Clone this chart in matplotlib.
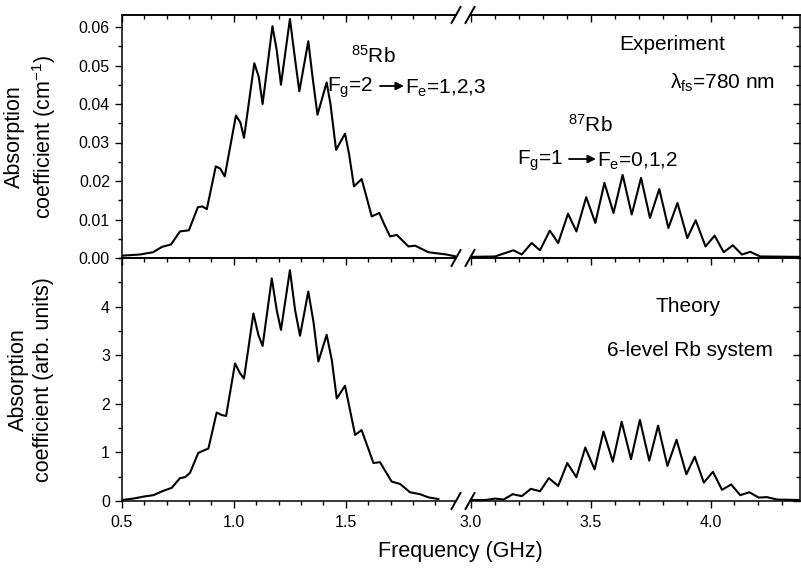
import matplotlib
matplotlib.use("Agg")
import matplotlib.pyplot as plt
from matplotlib.ticker import MultipleLocator, FixedLocator, FormatStrFormatter
from matplotlib.lines import Line2D

plt.rcParams['font.family'] = ['Liberation Sans', 'DejaVu Sans']
plt.rcParams['mathtext.fontset'] = 'custom'
plt.rcParams['mathtext.rm'] = 'Liberation Sans'
plt.rcParams['mathtext.it'] = 'Liberation Sans:italic'
plt.rcParams['mathtext.bf'] = 'Liberation Sans:bold'

# ---------------- data ----------------
exp85_x = [0.50, 0.58, 0.64, 0.68, 0.72, 0.76, 0.80, 0.84, 0.86, 0.88, 0.92, 0.94, 0.96,
           1.01, 1.03, 1.046, 1.092, 1.112, 1.129, 1.173, 1.192, 1.211, 1.251, 1.272,
           1.293, 1.333, 1.352, 1.374, 1.415, 1.432, 1.457, 1.497, 1.515, 1.537, 1.571,
           1.590, 1.616, 1.650, 1.670, 1.698, 1.728, 1.780, 1.810, 1.869, 1.951, 1.992]
exp85_y = [0.0006, 0.0009, 0.0015, 0.0029, 0.0035, 0.0069, 0.0072, 0.0132, 0.0134, 0.0127,
           0.0238, 0.0232, 0.0212, 0.0370, 0.0352, 0.0312, 0.0506, 0.0470, 0.0400, 0.0602,
           0.0540, 0.0450, 0.0621, 0.0525, 0.0433, 0.0563, 0.0470, 0.0372, 0.0456, 0.0400,
           0.0281, 0.0323, 0.0270, 0.0186, 0.0205, 0.0165, 0.0108, 0.0117, 0.0090, 0.0056,
           0.0060, 0.0030, 0.0032, 0.0015, 0.0009, 0.0004]

exp87_x = [3.00, 3.10, 3.177, 3.212, 3.253, 3.288, 3.329, 3.364, 3.405, 3.440, 3.481, 3.519,
           3.557, 3.595, 3.633, 3.671, 3.710, 3.747, 3.786, 3.824, 3.862, 3.903, 3.938,
           3.979, 4.017, 4.055, 4.093, 4.131, 4.166, 4.207, 4.373]
exp87_y = [0.0003, 0.0004, 0.0020, 0.0009, 0.0039, 0.0020, 0.0071, 0.0039, 0.0115, 0.0069,
           0.0158, 0.0091, 0.0195, 0.0117, 0.0216, 0.0113, 0.0208, 0.0104, 0.0179, 0.0078,
           0.0143, 0.0052, 0.0098, 0.0030, 0.0058, 0.0015, 0.0033, 0.0009, 0.0016, 0.0004,
           0.0003]

th85_x = [0.50, 0.552, 0.597, 0.641, 0.686, 0.723, 0.760, 0.783, 0.805, 0.842, 0.857, 0.887,
          0.924, 0.946, 0.966, 1.006, 1.028, 1.046, 1.088, 1.110, 1.129, 1.170, 1.192, 1.211,
          1.251, 1.274, 1.296, 1.333, 1.356, 1.378, 1.415, 1.438, 1.460, 1.497, 1.542, 1.571,
          1.624, 1.653, 1.705, 1.743, 1.787, 1.832, 1.869, 1.914]
th85_y = [0.02, 0.05, 0.09, 0.12, 0.21, 0.27, 0.47, 0.49, 0.58, 0.99, 1.02, 1.08,
          1.82, 1.77, 1.75, 2.83, 2.63, 2.52, 3.86, 3.42, 3.19, 4.58, 3.93, 3.52,
          4.75, 3.93, 3.40, 4.31, 3.69, 2.87, 3.42, 2.90, 2.11, 2.37, 1.36, 1.46,
          0.78, 0.80, 0.40, 0.35, 0.18, 0.14, 0.075, 0.04]

th87_x = [3.00, 3.059, 3.101, 3.136, 3.174, 3.212, 3.250, 3.288, 3.325, 3.364, 3.402, 3.440,
          3.477, 3.516, 3.553, 3.592, 3.629, 3.668, 3.705, 3.744, 3.781, 3.820, 3.858, 3.899,
          3.934, 3.972, 4.010, 4.048, 4.086, 4.124, 4.162, 4.201, 4.235, 4.277, 4.373]
th87_y = [0.02, 0.02, 0.05, 0.03, 0.14, 0.10, 0.25, 0.20, 0.47, 0.31, 0.78, 0.49,
          1.10, 0.65, 1.43, 0.81, 1.63, 0.86, 1.67, 0.83, 1.55, 0.72, 1.26, 0.55,
          0.91, 0.38, 0.60, 0.23, 0.34, 0.12, 0.18, 0.07, 0.08, 0.03, 0.02]

left_xticks = [0.5, 1.0, 1.5]
right_xticks = [3.0, 3.5, 4.0]
top_yticks = [0.00, 0.01, 0.02, 0.03, 0.04, 0.05, 0.06]
bot_yticks = [0, 1, 2, 3, 4]

# ---------------- layout (pixel geometry) ----------------
W, H = 801, 576
fig = plt.figure(figsize=(W / 100, H / 100), dpi=100)

xL0, xL1 = 121.7, 456.0     # left segment in px
xR0, xR1 = 470.0, 800.0     # right segment in px
yT0, yM, yB = 15.0, 258.0, 501.0

def box(x0, x1, ytop, ybot):
    return [x0 / W, 1 - ybot / H, (x1 - x0) / W, (ybot - ytop) / H]

axTL = fig.add_axes(box(xL0, xL1, yT0, yM))
axTR = fig.add_axes(box(xR0, xR1, yT0, yM))
axBL = fig.add_axes(box(xL0, xL1, yM, yB))
axBR = fig.add_axes(box(xR0, xR1, yM, yB))

left_xlim = (0.5, 0.5 + (xL1 - xL0) / 224.0)
right_xlim = (3.0 - (xR0 - 469.0) / 241.0, 3.0 + (xR1 - 469.0) / 241.0)
top_ylim = (0.0, (yM - yT0) / 3850.0)
bot_ylim = (0.0, 5.0)

lw_curve = 1.5
axTL.plot(exp85_x, exp85_y, color='black', lw=lw_curve)
axTR.plot(exp87_x, exp87_y, color='black', lw=lw_curve)
axBL.plot(th85_x, th85_y, color='black', lw=lw_curve)
axBR.plot(th87_x, th87_y, color='black', lw=lw_curve)

spine_lw = 1.1
tick_fs = 11.5
for ax in (axTL, axTR, axBL, axBR):
    for s in ax.spines.values():
        s.set_linewidth(spine_lw)
    ax.xaxis.set_minor_locator(MultipleLocator(0.1))
    ax.tick_params(axis='both', which='major', labelsize=tick_fs, width=1.0, length=5)
    ax.tick_params(axis='both', which='minor', width=1.0, length=3)

for ax in (axTL, axBL):
    ax.set_xlim(*left_xlim)
    ax.spines['right'].set_visible(False)
    ax.xaxis.set_major_locator(FixedLocator(left_xticks))
for ax in (axTR, axBR):
    ax.set_xlim(*right_xlim)
    ax.spines['left'].set_visible(False)
    ax.xaxis.set_major_locator(FixedLocator(right_xticks))

for ax in (axTL, axTR):
    ax.set_ylim(*top_ylim)
    ax.yaxis.set_major_locator(FixedLocator(top_yticks))
    ax.yaxis.set_minor_locator(MultipleLocator(0.005))
for ax in (axBL, axBR):
    ax.set_ylim(*bot_ylim)
    ax.yaxis.set_major_locator(FixedLocator(bot_yticks))
    ax.yaxis.set_minor_locator(MultipleLocator(0.5))

# x ticks: bottom outward, top inward; labels only on bottom panel
for ax in (axTL, axTR, axBL, axBR):
    ax.tick_params(axis='x', which='both', bottom=True, top=False, direction='out')
    sec = ax.secondary_xaxis('top')
    sec.xaxis.set_major_locator(ax.xaxis.get_major_locator())
    sec.xaxis.set_minor_locator(MultipleLocator(0.1))
    sec.tick_params(axis='x', which='both', direction='in', labeltop=False, width=1.0)
    sec.tick_params(axis='x', which='major', length=5)
    sec.tick_params(axis='x', which='minor', length=3)
    sec.spines['top'].set_linewidth(spine_lw)
for ax in (axTL, axTR):
    ax.tick_params(axis='x', which='both', labelbottom=False)
for ax in (axBL, axBR):
    ax.tick_params(axis='x', which='major', pad=5)

# y ticks: left outward with labels on left axes, right inward on right axes
for ax in (axTL, axBL):
    ax.tick_params(axis='y', which='both', left=True, right=False, direction='out')
for ax in (axTR, axBR):
    ax.tick_params(axis='y', which='both', left=False, right=True, labelleft=False,
                   direction='in')

axTL.yaxis.set_major_formatter(FormatStrFormatter('%.2f'))
axBL.yaxis.set_major_formatter(FormatStrFormatter('%d'))

# axis labels
lab_fs = 15.5
fig.text(31 / W, 1 - ((yT0 + yM) / 2) / H, 'Absorption\ncoefficient (cm$\\mathregular{^{-1}}$)',
         rotation=90, ha='center', va='center', multialignment='center', fontsize=lab_fs,
         linespacing=1.25)
fig.text(31 / W, 1 - ((yM + yB) / 2) / H, 'Absorption\ncoefficient (arb. units)',
         rotation=90, ha='center', va='center', multialignment='center', fontsize=lab_fs,
         linespacing=1.25)
fig.text(((xL0 + xR1) / 2) / W, 1 - 552 / H, 'Frequency (GHz)', ha='center', va='center',
         fontsize=lab_fs)

# break marks
def slash(xc, yc):
    fig.add_artist(Line2D([(xc - 4.5) / W, (xc + 4.5) / W],
                          [1 - (yc + 8) / H, 1 - (yc - 8) / H],
                          transform=fig.transFigure, color='black', lw=1.4))
for yc in (yT0, yM, yB):
    slash(xL1, yc)
    slash(xR0, yc)

# annotations
ann_fs = 15
def ftext(x, y, s, **kw):
    fig.text(x / W, 1 - y / H, s, fontsize=kw.pop('fontsize', ann_fs), **kw)

def farrow(x0, x1, y):
    fig.add_artist(matplotlib.patches.FancyArrowPatch(
        (x0 / W, 1 - y / H), (x1 / W, 1 - y / H), transform=fig.transFigure,
        arrowstyle='-|>', mutation_scale=12, color='black', lw=1.3,
        shrinkA=0, shrinkB=0))

ftext(373, 56, '$\\mathregular{^{85}}$Rb', ha='center', va='center')
ftext(327, 88, 'F$_\\mathregular{g}$=2', ha='left', va='center')
farrow(380, 404, 86)
ftext(405, 88, 'F$_\\mathregular{e}$=1,2,3', ha='left', va='center')

ftext(672, 45, 'Experiment', ha='center', va='center')
ftext(723, 83, 'λ$_\\mathregular{fs}$=780 nm', ha='center', va='center')

ftext(590, 125, '$\\mathregular{^{87}}$Rb', ha='center', va='center')
ftext(517, 161, 'F$_\\mathregular{g}$=1', ha='left', va='center')
farrow(569, 596, 159)
ftext(597, 161, 'F$_\\mathregular{e}$=0,1,2', ha='left', va='center')

ftext(688, 306, 'Theory', ha='center', va='center')
ftext(690, 351, '6-level Rb system', ha='center', va='center')

fig.savefig('out.png', dpi=100)
